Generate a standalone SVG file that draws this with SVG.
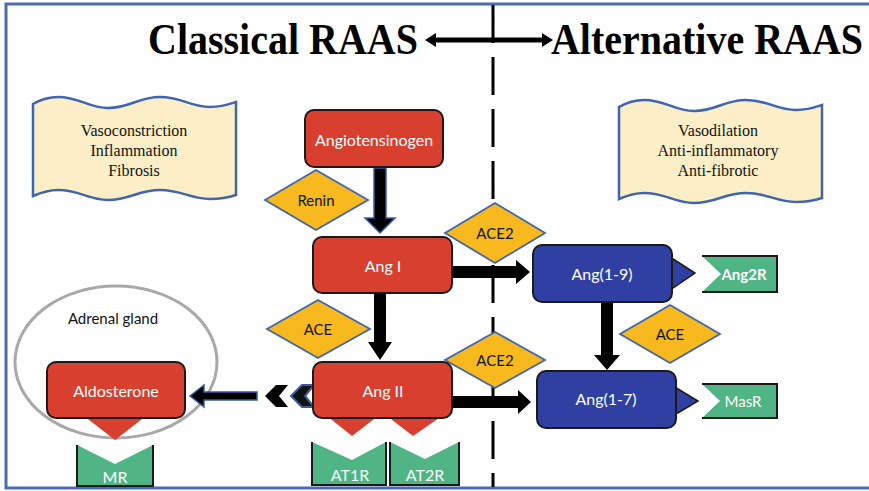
<svg xmlns="http://www.w3.org/2000/svg" width="869" height="491" viewBox="0 0 869 491">
<defs>
<style>
.title{font-family:"Liberation Serif","Times New Roman",serif;font-weight:bold;font-size:45px;fill:#000}
.note{font-family:"Liberation Serif","Times New Roman",serif;font-size:16px;fill:#111;text-anchor:middle}
.lbl{font-family:Lato,"Open Sans",sans-serif;font-size:16px;text-anchor:middle;dominant-baseline:central}
.w{fill:#fff}
.k{fill:#111}
.red{fill:#d83f2e;stroke:#1a1a1a;stroke-width:2}
.blue{fill:#2f3fa2;stroke:#1a1a1a;stroke-width:2}
.enz{fill:#f7b91e;stroke:#3f64b0;stroke-width:1.8}
.grn{fill:#4fb585}
.gedge{fill:none;stroke:#1a1a1a;stroke-width:2}
.wave{fill:#fcefc7;stroke:#3f64b0;stroke-width:2.5}
.arr{fill:#000}
.arrb{fill:#000;stroke:#3a5aa8;stroke-width:1.5}
</style>
<path id="wavebox" d="M33,104 C40,100 48,97 58,97 C80,97 88,108 108,108 C130,108 138,97 160,97 C182,97 190,107 210,107 C222,107 230,104 236,102 L236,195 C230,197 222,199 210,199 C190,199 182,190 160,190 C138,190 130,200 108,200 C88,200 80,190 58,190 C48,190 40,193 33,196 Z"/>
</defs>
<rect width="869" height="491" fill="#fff"/>
<rect x="6" y="4" width="870" height="484" fill="none" stroke="#4a6cb3" stroke-width="3"/>

<g id="divider">
<line x1="493" y1="5" x2="493" y2="487" stroke="#000" stroke-width="3" stroke-dasharray="38 14"/>
</g>

<g id="titles">
<text class="title" x="148" y="54" textLength="270" lengthAdjust="spacingAndGlyphs">Classical RAAS</text>
<text class="title" x="551" y="54" textLength="312" lengthAdjust="spacingAndGlyphs">Alternative RAAS</text>
<line x1="432" y1="40" x2="546" y2="40" stroke="#000" stroke-width="5"/>
<polygon points="425,40 436,33 436,47" fill="#000"/>
<polygon points="553,40 542,33 542,47" fill="#000"/>
</g>

<g id="effects-classical">
<use href="#wavebox" class="wave"/>
<text class="note" x="134" y="136">Vasoconstriction</text>
<text class="note" x="134" y="156">Inflammation</text>
<text class="note" x="134" y="176">Fibrosis</text>
</g>
<g id="effects-alternative">
<use href="#wavebox" class="wave" transform="translate(586,3)"/>
<text class="note" x="718" y="136">Vasodilation</text>
<text class="note" x="718" y="156">Anti-inflammatory</text>
<text class="note" x="718" y="176">Anti-fibrotic</text>
</g>

<g id="adrenal-gland">
<ellipse cx="116" cy="362" rx="101" ry="76" fill="none" stroke="#a8a8a8" stroke-width="3"/>
<text class="lbl k" x="113" y="318" style="font-size:15px">Adrenal gland</text>
</g>

<g id="connectors">
<polygon class="arrb" points="374,168 386,168 386,218 395,218 380,233 365,218 374,218"/>
<polygon class="arr" points="374,293 386,293 386,342 392,342 380,360 368,342 374,342"/>
<polygon class="arr" points="452,266 516,266 516,260 530,272 516,284 516,278 452,278"/>
<polygon class="arr" points="452,396 518,396 518,390 531,402 518,414 518,408 452,408"/>
<polygon class="arr" points="601,302 613,302 613,355 620,355 607,370 594,355 601,355"/>
<polygon class="arrb" points="257,392 204,392 204,385 190,396 204,407 204,400 257,400"/>
<polygon class="arr" points="265,396 276,385 288,385 279,396 288,407 276,407"/>
<polygon points="291,396 302,385 314,385 305,396 314,407 302,407" fill="#111" stroke="#3a5aa8" stroke-width="2"/>
</g>

<g id="angiotensinogen">
<rect class="red" x="305" y="110" width="138" height="57" rx="9"/>
<text class="lbl w" x="374" y="139">Angiotensinogen</text>
</g>
<g id="renin">
<polygon class="enz" points="265,200 316,170 368,200 316,230"/>
<text class="lbl k" x="316" y="200" style="font-size:15px">Renin</text>
</g>
<g id="ang-i">
<rect class="red" x="313" y="237" width="139" height="56" rx="9"/>
<text class="lbl w" x="383" y="265">Ang I</text>
</g>
<g id="ace2-upper">
<polygon class="enz" points="445,233 495,203 545,233 495,263"/>
<text class="lbl k" x="495" y="233" style="font-size:15px">ACE2</text>
</g>
<g id="ace-left">
<polygon class="enz" points="267,329 318,300 370,329 318,358"/>
<text class="lbl k" x="318" y="329" style="font-size:15px">ACE</text>
</g>
<g id="ace2-lower">
<polygon class="enz" points="445,360 495,332 545,360 495,388"/>
<text class="lbl k" x="495" y="360" style="font-size:15px">ACE2</text>
</g>
<g id="ace-right">
<polygon class="enz" points="620,334 670,305 720,334 670,363"/>
<text class="lbl k" x="670" y="334" style="font-size:15px">ACE</text>
</g>

<g id="ang-1-9">
<polygon points="670,257 695,273 670,290" fill="#2f3fa2" stroke="#1a1a1a" stroke-width="1.5"/>
<rect class="blue" x="533" y="245" width="139" height="57" rx="9"/>
<text class="lbl w" x="602" y="273">Ang(1-9)</text>
</g>
<g id="ang2r">
<polygon class="grn" points="702,256 777,256 777,292 702,292 721,274"/>
<polyline class="gedge" points="702,256 777,256 777,292 702,292"/>
<text class="lbl w" x="744" y="274" style="font-weight:bold;font-size:15px">Ang2R</text>
</g>
<g id="ang-1-7">
<polygon points="673,386 698,401 673,416" fill="#2f3fa2" stroke="#1a1a1a" stroke-width="1.5"/>
<rect class="blue" x="537" y="371" width="139" height="57" rx="9"/>
<text class="lbl w" x="606" y="398">Ang(1-7)</text>
</g>
<g id="masr">
<polygon class="grn" points="702,384 777,384 777,418 702,418 720,401"/>
<polyline class="gedge" points="702,384 777,384 777,418 702,418"/>
<text class="lbl w" x="743" y="401" style="font-size:15px">MasR</text>
</g>

<g id="ang-ii">
<polygon points="327,416 378,416 352,436" fill="#d83f2e"/>
<polygon points="387,416 442,416 413,436" fill="#d83f2e"/>
<rect class="red" x="313" y="362" width="139" height="56" rx="9"/>
<text class="lbl w" x="383" y="390">Ang II</text>
</g>
<g id="at1r">
<polygon class="grn" points="312,442 352,460 386,442 386,485 312,485"/>
<polyline class="gedge" points="312,442 312,485 386,485 386,442"/>
<text class="lbl w" x="350" y="474">AT1R</text>
</g>
<g id="at2r">
<polygon class="grn" points="390,442 425,459 459,442 459,485 390,485"/>
<polyline class="gedge" points="390,442 390,485 459,485 459,442"/>
<text class="lbl w" x="425" y="474">AT2R</text>
</g>

<g id="aldosterone">
<polygon points="84,416 146,416 115,440" fill="#d83f2e"/>
<rect class="red" x="47" y="362" width="138" height="56" rx="9"/>
<text class="lbl w" x="116" y="390">Aldosterone</text>
</g>
<g id="mr">
<polygon class="grn" points="77,445 115,464 153,445 153,486 77,486"/>
<polyline class="gedge" points="77,445 77,486 153,486 153,445"/>
<text class="lbl w" x="115" y="476">MR</text>
</g>
</svg>
